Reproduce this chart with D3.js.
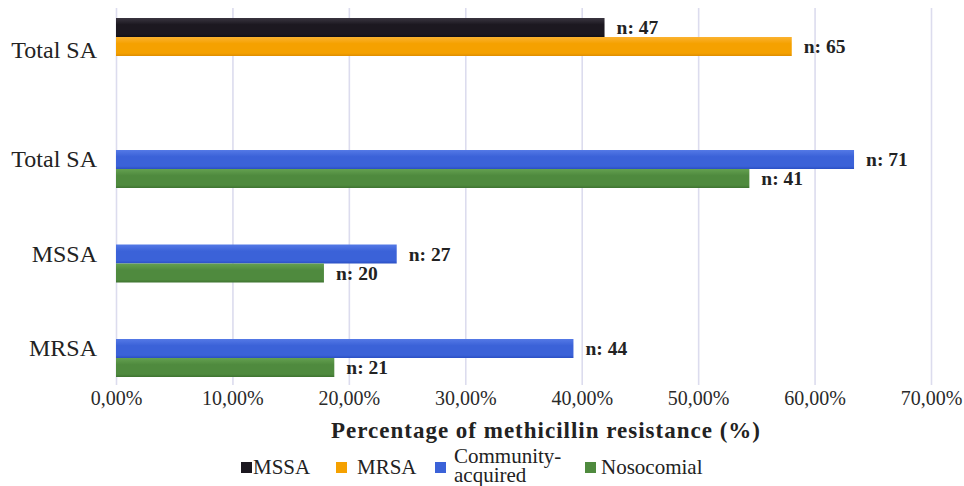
<!DOCTYPE html>
<html>
<head>
<meta charset="utf-8">
<script src="https://cdn.jsdelivr.net/npm/d3@7"></script>
<style>
  html, body { margin: 0; padding: 0; background: #fff; }
  svg { display: block; }
  svg text { font-family: "Liberation Serif", "Times New Roman", serif; }
</style>
</head>
<body>
<svg id="chart" width="964" height="486"></svg>
<script>
// Overall split of S. aureus isolates
const overallCategory = ["Total SA"];
const mssaPct = [41.96];
const mrsaPct = [58.04];
const mssaN = [47];
const mrsaN = [65];

// Origin of infection by isolate group
const categories = ["Total SA", "MSSA", "MRSA"];
const communityPct = [63.39, 24.11, 39.29];
const nosocomialPct = [54.4, 17.86, 18.75];
const communityN = [71, 27, 44];
const nosocomialN = [41, 20, 21];

const xTicks = [0, 10, 20, 30, 40, 50, 60, 70];
const legendLabels = ["MSSA", "MRSA", "Community-acquired", "Nosocomial"];
const axisTitle = "Percentage of methicillin resistance (%)";

const colors = {
  mssa:  ["#3a3540", "#1c1820", "#121016"],
  mrsa:  ["#fbb230", "#f5a100", "#de8d00"],
  comm:  ["#5479e6", "#3b62d8", "#2a4fc4"],
  noso:  ["#64a050", "#4f8a3e", "#3e7330"]
};

const svg = d3.select("#chart");
const defs = svg.append("defs");
Object.entries(colors).forEach(([k, c]) => {
  const g = defs.append("linearGradient").attr("id", "g-" + k)
    .attr("x1", 0).attr("y1", 0).attr("x2", 0).attr("y2", 1);
  g.append("stop").attr("offset", "0%").attr("stop-color", c[0]);
  g.append("stop").attr("offset", "35%").attr("stop-color", c[1]);
  g.append("stop").attr("offset", "85%").attr("stop-color", c[1]);
  g.append("stop").attr("offset", "100%").attr("stop-color", c[2]);
});

const x = d3.scaleLinear().domain([0, 70]).range([116, 931]);
const gridTop = 8, axisY = 385;
const barH = 19;

// vertical gridlines + tick labels
const axis = svg.append("g")
  .attr("transform", `translate(0,${axisY})`)
  .call(d3.axisBottom(x)
    .tickValues(xTicks)
    .tickSize(-(axisY - gridTop))
    .tickPadding(6)
    .tickFormat(d => d.toFixed(2).replace(".", ",") + "%"));
axis.attr("font-family", null);
axis.select(".domain").remove();
axis.selectAll(".tick line").attr("stroke", "#dcdcee").attr("stroke-width", 1.6);
axis.selectAll(".tick text")
  .attr("font-size", 20)
  .attr("fill", "#2a2a2a")
  .style("font-family", '"Liberation Serif", serif');

// top panel: MSSA vs MRSA
const yTop = d3.scaleBand().domain(overallCategory).range([18, 112]);
const topRows = overallCategory.map((c, i) => ({ c, i }));

function drawBars(rows, yScale, values, ns, key, offset) {
  const g = svg.append("g");
  g.selectAll("rect").data(rows).join("rect")
    .attr("x", x(0))
    .attr("y", d => yScale(d.c) + offset)
    .attr("width", d => x(values[d.i]) - x(0))
    .attr("height", barH)
    .attr("fill", `url(#g-${key})`);
  g.selectAll("text").data(rows).join("text")
    .attr("x", d => x(values[d.i]) + 12)
    .attr("y", d => yScale(d.c) + offset + barH / 2)
    .attr("dy", "0.35em")
    .attr("font-size", 19.5)
    .attr("font-weight", "bold")
    .attr("fill", "#222")
    .text(d => "n: " + ns[d.i]);
}

drawBars(topRows, yTop, mssaPct, mssaN, "mssa", 0);
drawBars(topRows, yTop, mrsaPct, mrsaN, "mrsa", barH);

svg.append("g").selectAll("text").data(overallCategory).join("text")
  .attr("x", 97)
  .attr("y", d => yTop(d) + 40)
  .attr("text-anchor", "end")
  .attr("font-size", 24)
  .attr("fill", "#222")
  .text(d => d);

// bottom panel: community-acquired vs nosocomial
const yBot = d3.scaleBand().domain(categories).range([150, 150 + 3 * 94.5]);
const botRows = categories.map((c, i) => ({ c, i }));

drawBars(botRows, yBot, communityPct, communityN, "comm", 0);
drawBars(botRows, yBot, nosocomialPct, nosocomialN, "noso", barH);

svg.append("g").selectAll("text").data(categories).join("text")
  .attr("x", 97)
  .attr("y", d => yBot(d) + 17)
  .attr("text-anchor", "end")
  .attr("font-size", 24)
  .attr("fill", "#222")
  .text(d => d);

// axis title
svg.append("text")
  .attr("x", 546)
  .attr("y", 438)
  .attr("text-anchor", "middle")
  .attr("font-size", 23)
  .attr("font-weight", "bold")
  .attr("letter-spacing", "1px")
  .attr("fill", "#222")
  .text(axisTitle);

// legend
const legendKeys = ["mssa", "mrsa", "comm", "noso"];
const legendSquareX = [241, 336, 435, 585];
const legendTextX = [253, 357, 454, 601];
const legend = svg.append("g");
legendKeys.forEach((k, i) => {
  legend.append("rect")
    .attr("x", legendSquareX[i]).attr("y", 462)
    .attr("width", 11).attr("height", 11)
    .attr("fill", colors[k][1]);
  const t = legend.append("text")
    .attr("x", legendTextX[i])
    .attr("font-size", 21)
    .attr("fill", "#222");
  if (k === "comm") {
    const parts = ["Community-", "acquired"];
    t.append("tspan").attr("x", legendTextX[i]).attr("y", 463).text(parts[0]);
    t.append("tspan").attr("x", legendTextX[i]).attr("y", 482).text(parts[1]);
  } else {
    t.attr("y", 474).text(legendLabels[i]);
  }
});
</script>
</body>
</html>
